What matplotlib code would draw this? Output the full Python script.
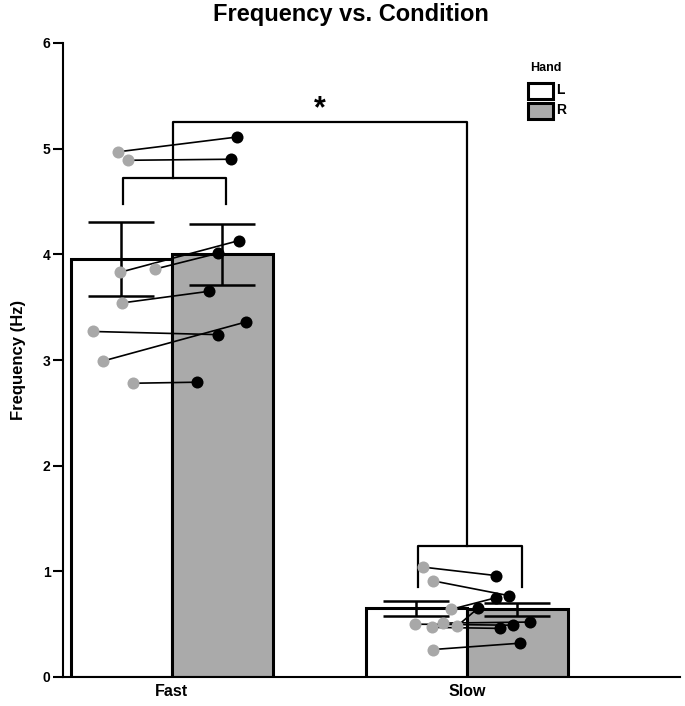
import numpy as np
import matplotlib
matplotlib.use("Agg")
import matplotlib.pyplot as plt
from matplotlib.patches import Rectangle

plt.rcParams['font.family'] = ['Liberation Sans', 'DejaVu Sans']
plt.rcParams['font.weight'] = 'bold'

conditions = ["Fast", "Slow"]
hands = ["L", "R"]

mean_L = [3.96, 0.65]
mean_R = [4.00, 0.64]
sem_L = [0.35, 0.07]
sem_R = [0.29, 0.065]

# individual subjects, left hand and right hand (paired by index)
fast_L = [4.97, 4.89, 3.83, 3.86, 3.54, 3.27, 2.99, 2.78]
fast_R = [5.11, 4.90, 4.13, 4.01, 3.65, 3.24, 3.36, 2.79]
slow_L = [1.04, 0.91, 0.64, 0.48, 0.50, 0.47, 0.51, 0.26]
slow_R = [0.96, 0.77, 0.75, 0.65, 0.49, 0.46, 0.52, 0.32]

# horizontal jitter of each dot, relative to the group centre
fast_jit_L = [-0.183, -0.149, -0.176, -0.058, -0.169, -0.268, -0.234, -0.132]
fast_jit_R = [0.220, 0.200, 0.227, 0.156, 0.125, 0.156, 0.251, 0.085]
slow_jit_L = [-0.149, -0.115, -0.054, -0.034, -0.176, -0.119, -0.081, -0.115]
slow_jit_R = [0.098, 0.142, 0.098, 0.037, 0.156, 0.112, 0.214, 0.180]

GRAY = "#aaaaaa"
DOT_GRAY = "#a8a8a8"
W, H = 685, 706

fig = plt.figure(figsize=(6.85, 7.06), dpi=100)
ax = fig.add_axes([63 / W, 29 / H, (680 - 63) / W, (677 - 43) / H])

x = np.arange(len(conditions))
w = 0.342

ax.bar(x - w / 2, mean_L, w, color="white", edgecolor="black", linewidth=2.2, zorder=2)
ax.bar(x + w / 2, mean_R, w, color=GRAY, edgecolor="black", linewidth=2.2, zorder=2)
ax.errorbar(x - w / 2, mean_L, yerr=sem_L, fmt="none", ecolor="black",
            elinewidth=1.8, capsize=24, capthick=1.8, zorder=3)
ax.errorbar(x + w / 2, mean_R, yerr=sem_R, fmt="none", ecolor="black",
            elinewidth=1.8, capsize=24, capthick=1.8, zorder=3)

# paired subject dots
groups = [(fast_L, fast_R, fast_jit_L, fast_jit_R), (slow_L, slow_R, slow_jit_L, slow_jit_R)]
for gi, (vl, vr, jl, jr) in enumerate(groups):
    for a, b, ja, jb in zip(vl, vr, jl, jr):
        ax.plot([gi + ja, gi + jb], [a, b], color="black", lw=1.2, zorder=4)
    ax.scatter(np.array(jl) + gi, vl, s=75, color=DOT_GRAY, zorder=5, linewidths=0)
    ax.scatter(np.array(jr) + gi, vr, s=75, color="black", zorder=5, linewidths=0)

# significance brackets
blw = 1.6
leg_lo, leg_hi = -0.165, 0.185
brackets = [(0, 4.48, 4.72), (1, 0.85, 1.24)]
for gi, lo, hi in brackets:
    ax.plot([gi + leg_lo, gi + leg_lo, gi + leg_hi, gi + leg_hi], [lo, hi, hi, lo],
            color="black", lw=blw, zorder=3)
top = 5.25
ax.plot([0.003, 0.003, 1.0, 1.0], [4.72, top, top, 1.24], color="black", lw=blw, zorder=3)
ax.text(0.5, top - 0.02, "*", ha="center", va="bottom", fontsize=22, fontweight="bold")

ax.set_xlim(-0.369, 1.722)
ax.set_ylim(0, 6)
ax.set_xticks(x)
ax.set_xticklabels(conditions, fontsize=11.5, fontweight="bold")
ax.tick_params(axis="x", length=0, pad=5)
ax.set_yticks(range(7))
ax.tick_params(axis="y", length=7, width=1.5, labelsize=10, pad=2)
for lab in ax.get_yticklabels():
    lab.set_fontweight("bold")
ax.spines["top"].set_visible(False)
ax.spines["right"].set_visible(False)
ax.spines["left"].set_linewidth(1.5)
ax.spines["bottom"].set_linewidth(1.5)
ax.set_ylabel("Frequency (Hz)", fontsize=12, fontweight="bold", labelpad=12)

fig.text(351 / W, 1 - 15 / H, "Frequency vs. Condition", ha="center", va="center",
         fontsize=17, fontweight="bold")

# legend, drawn by hand to match the boxed swatches
fig.text(546 / W, 1 - 68 / H, "Hand", ha="center", va="center", fontsize=9, fontweight="bold")
for (top_px, fc), lab in zip([(83, "white"), (103, GRAY)], hands):
    fig.add_artist(Rectangle((528 / W, 1 - (top_px + 16) / H), 25 / W, 16 / H,
                             transform=fig.transFigure, facecolor=fc,
                             edgecolor="black", linewidth=2.2))
    fig.text(556 / W, 1 - (top_px + 7) / H, lab, ha="left", va="center",
             fontsize=10, fontweight="bold")

fig.savefig("out.png", dpi=100)
